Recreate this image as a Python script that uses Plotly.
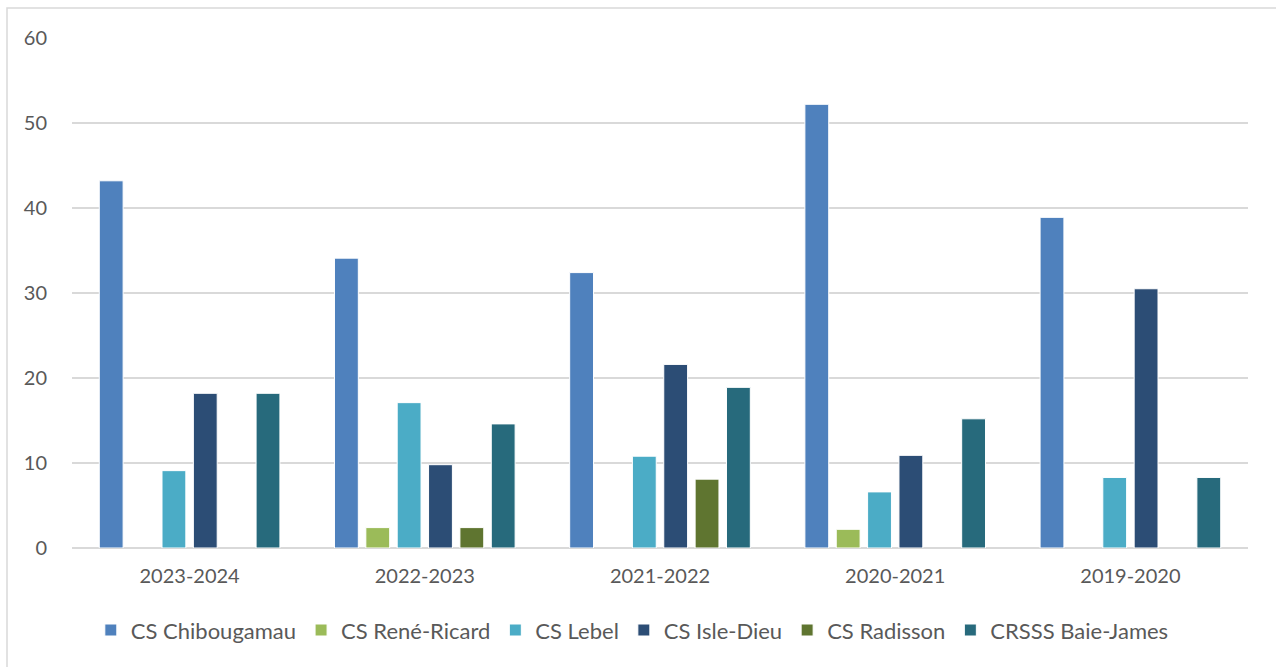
import plotly.graph_objects as go

years = ["2023-2024", "2022-2023", "2021-2022", "2020-2021", "2019-2020"]

# None marks a year with no value for that centre
chibougamau = [43.2, 34.1, 32.4, 52.2, 38.9]
rene_ricard = [None, 2.4, None, 2.2, None]
lebel = [9.1, 17.1, 10.8, 6.6, 8.3]
isle_dieu = [18.2, 9.8, 21.6, 10.9, 30.5]
radisson = [None, 2.4, 8.1, None, None]
baie_james = [18.2, 14.6, 18.9, 15.2, 8.3]

series = [
    ("CS Chibougamau", chibougamau, "#4F81BD"),
    ("CS René-Ricard", rene_ricard, "#9BBB59"),
    ("CS Lebel", lebel, "#4BACC6"),
    ("CS Isle-Dieu", isle_dieu, "#2C4D75"),
    ("CS Radisson", radisson, "#5F7530"),
    ("CRSSS Baie-James", baie_james, "#276A7C"),
]

fig = go.Figure()
for name, vals, color in series:
    fig.add_trace(go.Bar(
        name=name, x=years, y=vals,
        marker=dict(color=color, line=dict(color="white", width=1)),
    ))

font_family = "Lato, 'Open Sans', sans-serif"

fig.update_layout(
    width=1276, height=667,
    margin=dict(l=72, r=28, t=38, b=119),
    paper_bgcolor="white", plot_bgcolor="white",
    barmode="group", bargap=0.2, bargroupgap=0.24,
    font=dict(family=font_family, size=20, color="#595959"),
    showlegend=True,
    legend=dict(
        orientation="h", x=0.016, xanchor="left", y=-0.12, yanchor="top",
        font=dict(size=22, color="#595959"),
        itemwidth=30, traceorder="normal",
    ),
    xaxis=dict(showgrid=False, showline=False, ticks="", ticklabelstandoff=14,
               tickfont=dict(size=20)),
    yaxis=dict(
        range=[0, 60], dtick=10, showgrid=True, gridcolor="#D9D9D9", gridwidth=1.5,
        zeroline=True, zerolinecolor="#D9D9D9", zerolinewidth=1.5,
        showline=False, ticks="", ticklabelstandoff=24, tickfont=dict(size=20),
    ),
    shapes=[dict(
        type="rect", xref="paper", yref="paper",
        x0=-65 / 1176, x1=1.05, y0=-0.3, y1=1 + 30 / 510,
        line=dict(color="#D9D9D9", width=1.5), fillcolor="rgba(0,0,0,0)",
        layer="below",
    )],
)

fig.write_html("out.html")
